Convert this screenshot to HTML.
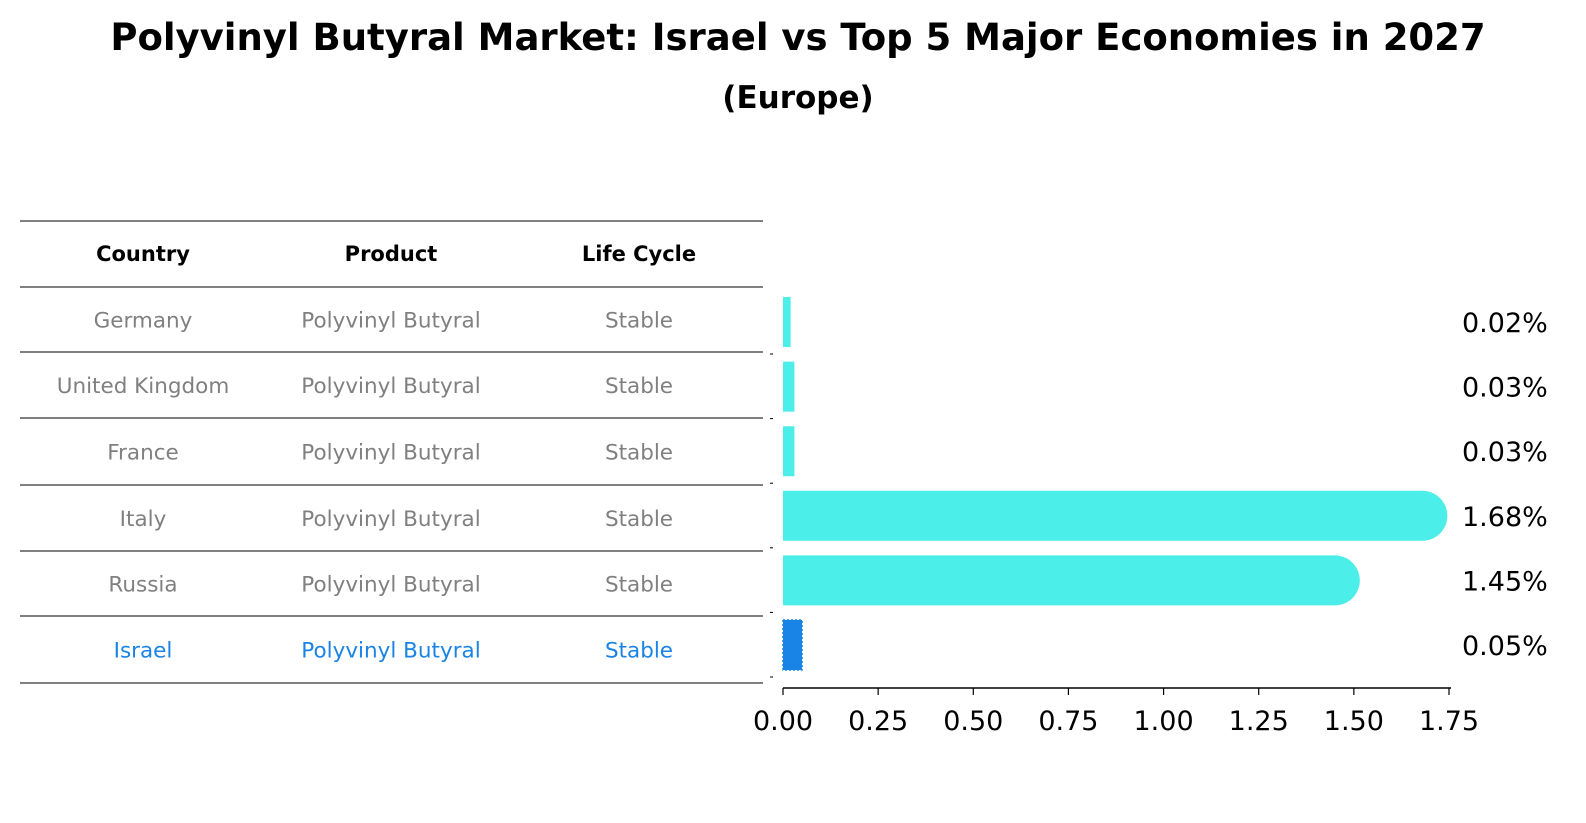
<!DOCTYPE html>
<html><head><meta charset="utf-8"><style>
html,body{margin:0;padding:0;background:#fff;overflow:hidden;width:1586px;height:823px;}
svg{display:block;}
svg text{font-family:"DejaVu Sans","Liberation Sans",sans-serif;}
</style></head><body>
<svg id="c" width="1586" height="823" xmlns="http://www.w3.org/2000/svg">
<text x="798" y="50" text-anchor="middle" font-size="37" font-weight="bold">Polyvinyl Butyral Market: Israel vs Top 5 Major Economies in 2027</text>
<text x="798" y="108" text-anchor="middle" font-size="31" font-weight="bold">(Europe)</text>
<g id="tbl"></g>
<g id="bars"></g>
</svg>
<script>
const countries=["Germany","United Kingdom","France","Italy","Russia","Israel"];
const products=["Polyvinyl Butyral","Polyvinyl Butyral","Polyvinyl Butyral","Polyvinyl Butyral","Polyvinyl Butyral","Polyvinyl Butyral"];
const lifecycle=["Stable","Stable","Stable","Stable","Stable","Stable"];
const values=[0.02,0.03,0.03,1.68,1.45,0.05];
const valueLabels=["0.02%","0.03%","0.03%","1.68%","1.45%","0.05%"];
const ticks=[0,0.25,0.5,0.75,1.0,1.25,1.5,1.75];
const tickLabels=["0.00","0.25","0.50","0.75","1.00","1.25","1.50","1.75"];
const NS="http://www.w3.org/2000/svg";
const x0=783,x1=1449,xmax=1.75;
const xs=v=>x0+(x1-x0)*v/xmax;
const rowY=i=>322+i*64.6;
function mk(p,t,a){const e=document.createElementNS(NS,t);for(const k in a)e.setAttribute(k,a[k]);p.appendChild(e);return e;}
const tbl=document.getElementById('tbl');
const lines=[221,287,352,418,485,551,616,683];
lines.forEach(y=>{const l=mk(tbl,'line',{x1:20,x2:763,y1:y,y2:y,stroke:'#000','stroke-width':1});

});
const cx=[143,391,639];
["Country","Product","Life Cycle"].forEach((h,j)=>{const t=mk(tbl,'text',{x:cx[j],y:261,'text-anchor':'middle','font-size':21,'font-weight':'bold'});t.textContent=h;

});
countries.forEach((c,i)=>{const y=(lines[i+1]+lines[i+2])/2+8;const col=i==5?'#1a84e6':'#808080';
[c,products[i],lifecycle[i]].forEach((s,j)=>{const t=mk(tbl,'text',{x:cx[j],y:y,'text-anchor':'middle','font-size':21.5,fill:col});t.textContent=s;

});});
const bars=document.getElementById('bars');
const h=50;
values.forEach((v,i)=>{const y=rowY(i)-h/2;let w=xs(v)-x0;const r=w>50?25:0;w+=r;
let el;
if(i==5){el=mk(bars,'rect',{x:x0,y:y,width:w,height:h,fill:'#1a84e6',stroke:'#1a84e6','stroke-dasharray':'2,2','stroke-width':1.5});}
else{el=mk(bars,'path',{d:`M${x0},${y}h${w-r}a${r},${r} 0 0 1 ${r},${r}v${h-2*r}a${r},${r} 0 0 1 ${-r},${r}h${-(w-r)}z`,fill:'#4beee8'});}


const t=mk(bars,'text',{x:1462,y:rowY(i)+10,'font-size':27});t.textContent=valueLabels[i];


const tk=mk(bars,'line',{x1:770,x2:773,y1:rowY(i)+32,y2:rowY(i)+32,stroke:'#000'});

});
const ax=mk(bars,'line',{x1:x0,x2:x1+2,y1:688,y2:688,stroke:'#000','stroke-width':1.5});


ticks.forEach((v,i)=>{const l=mk(bars,'line',{x1:xs(v),x2:xs(v),y1:688,y2:695,stroke:'#000','stroke-width':1.2});


const t=mk(bars,'text',{x:xs(v),y:730,'text-anchor':'middle','font-size':27});t.textContent=tickLabels[i];

});
</script>
</body></html>
